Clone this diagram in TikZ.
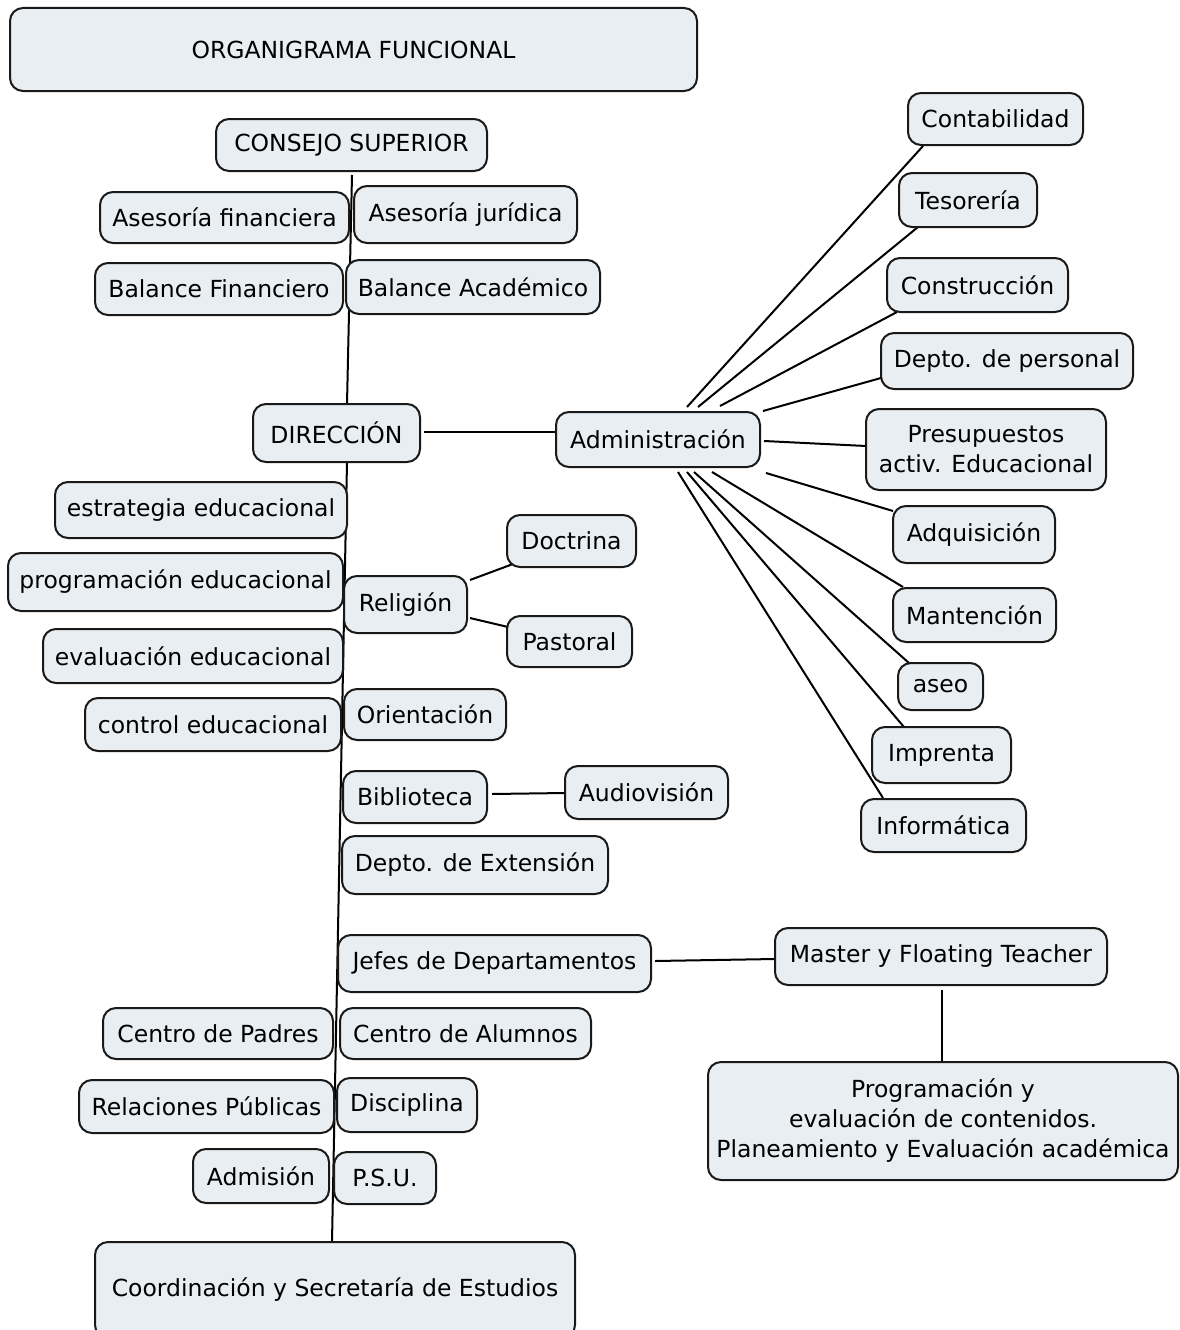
\documentclass[tikz,border=0pt]{standalone}
\usepackage{fontspec}
\setmainfont{DejaVu Sans}
\usetikzlibrary{calc,backgrounds}
\definecolor{boxfill}{RGB}{233,238,242}
\definecolor{boxline}{RGB}{25,25,25}
\newcommand\mkbox[6]{\node[box,minimum width=#4pt,minimum height=#5pt] (#1) at (#2,-#3) {#6};}
\newcommand\mklink[6]{\draw[link] ($(#1)+(#2,#3)$) -- ($(#4)+(#5,#6)$);}
\begin{document}
\begin{tikzpicture}[x=1pt,y=1pt,
  box/.style={draw=boxline, line width=2pt, fill=boxfill, rounded corners=13pt,
    inner sep=0pt, align=center, font=\fontsize{23.5}{30}\selectfont},
  link/.style={draw=black, line width=2pt}]
\clip (0,0) rectangle (1179,-1330);
\useasboundingbox (0,0) rectangle (1179,-1330);
% nodes
\mkbox{title}{353.5}{49.5}{687}{83}{ORGANIGRAMA FUNCIONAL}
\mkbox{consejo}{351.5}{145}{271}{52}{CONSEJO SUPERIOR}
\mkbox{asfin}{224.5}{217.5}{249}{51}{Asesoría financiera}
\mkbox{asjur}{465.5}{214.5}{223}{57}{Asesoría jurídica}
\mkbox{balfin}{219}{289}{248}{52}{Balance Financiero}
\mkbox{balac}{473}{287}{254}{54}{Balance Académico}
\mkbox{direc}{336.5}{433}{167}{58}{DIRECCIÓN}
\mkbox{admin}{658}{439.5}{204}{55}{Administración}
\mkbox{estr}{201}{510}{292}{56}{estrategia educacional}
\mkbox{proged}{175.5}{582}{335}{58}{programación educacional}
\mkbox{evaled}{193}{656}{300}{54}{evaluación educacional}
\mkbox{control}{213}{724.5}{256}{53}{control educacional}
\mkbox{relig}{405.5}{604.5}{123}{57}{Religión}
\mkbox{doctr}{571.5}{541}{129}{52}{Doctrina}
\mkbox{pastor}{569.5}{641.5}{125}{51}{Pastoral}
\mkbox{orient}{425}{714.5}{162}{51}{Orientación}
\mkbox{biblio}{415}{797}{144}{52}{Biblioteca}
\mkbox{audio}{646.5}{792.5}{163}{53}{Audiovisión}
\mkbox{extens}{475}{865}{266}{58}{Depto. de Extensión}
\mkbox{jefes}{494.5}{963.5}{313}{57}{Jefes de Departamentos}
\mkbox{master}{941}{956.5}{332}{57}{Master y Floating Teacher}
\mkbox{progr}{943}{1121}{470}{118}{Programación y\\evaluación de contenidos.\\Planeamiento y Evaluación académica}
\mkbox{padres}{218}{1033.5}{230}{51}{Centro de Padres}
\mkbox{alumnos}{465.5}{1033.5}{251}{51}{Centro de Alumnos}
\mkbox{relac}{206.5}{1106.5}{255}{53}{Relaciones Públicas}
\mkbox{discip}{407}{1105}{140}{54}{Disciplina}
\mkbox{admis}{261}{1176}{136}{54}{Admisión}
\mkbox{psu}{385}{1178}{102}{52}{P.S.U.}
\mkbox{coord}{335}{1290}{480}{96}{Coordinación y Secretaría de Estudios}
\mkbox{contab}{995.5}{119}{175}{52}{Contabilidad}
\mkbox{tesor}{968}{200}{138}{54}{Tesorería}
\mkbox{constr}{977.5}{285}{181}{54}{Construcción}
\mkbox{person}{1007}{361}{252}{56}{Depto. de personal}
\mkbox{presup}{986}{449.5}{240}{81}{Presupuestos\\activ. Educacional}
\mkbox{adquis}{974}{534.5}{162}{57}{Adquisición}
\mkbox{manten}{974.5}{615}{163}{54}{Mantención}
\mkbox{aseo}{940.5}{686.5}{85}{47}{aseo}
\mkbox{impr}{941.5}{755}{139}{56}{Imprenta}
\mkbox{inform}{943.5}{825.5}{165}{53}{Informática}
% connectors
\begin{scope}[on background layer]
\fill[white] (0,0) rectangle (1179,-1330);
\mklink{consejo}{0.5}{-30}{direc}{10.5}{29}
\mklink{direc}{10.5}{-29}{coord}{-3}{48}
\mklink{direc}{87.5}{1}{admin}{-102}{7.5}
\mklink{admin}{29}{32.5}{contab}{-72.5}{-27}
\mklink{admin}{40}{32.5}{tesor}{-50}{-27}
\mklink{admin}{62}{33.5}{constr}{-80.5}{-27}
\mklink{admin}{105}{28.5}{person}{-126}{-17}
\mklink{admin}{106}{-1.5}{presup}{-120}{3.5}
\mklink{admin}{108}{-33.5}{adquis}{-81}{23.5}
\mklink{admin}{54}{-32.5}{manten}{-71.5}{28}
\mklink{admin}{36}{-32.5}{aseo}{-31.5}{23.5}
\mklink{admin}{29}{-32.5}{impr}{-37.5}{28}
\mklink{admin}{20}{-32.5}{inform}{-60.5}{27.5}
\mklink{relig}{64.5}{24.5}{doctr}{-58.5}{-23}
\mklink{relig}{64.5}{-13.5}{pastor}{-61.5}{14.5}
\mklink{biblio}{77}{3}{audio}{-81.5}{-0.5}
\mklink{jefes}{160.5}{2.5}{master}{-166}{-2.5}
\mklink{master}{1}{-33.5}{progr}{-1}{59}
\end{scope}
\end{tikzpicture}
\end{document}
